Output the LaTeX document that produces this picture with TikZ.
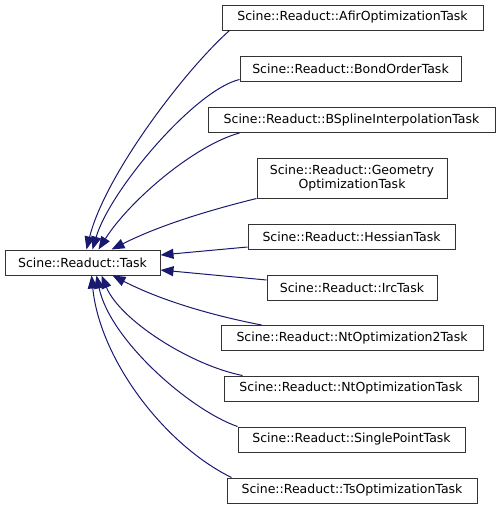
\documentclass[tikz,border=0pt]{standalone}
\usepackage{fontspec}
\setmainfont{DejaVu Sans}
\usetikzlibrary{arrows.meta}
\definecolor{edgeblue}{HTML}{191970}
\definecolor{boxgray}{HTML}{333333}

\begin{document}
\begin{tikzpicture}[x=1pt,y=-1pt,
	classbox/.style = {draw=boxgray, line width=1pt, fill=white, minimum height=25pt, inner sep=2pt,
		font=\fontsize{12.5}{13.7}\selectfont},
	inherit/.style = {draw=edgeblue, line width=1pt, {Triangle[length=13pt,width=10pt]}-}]
	\useasboundingbox (0,0) rectangle (501,509);
	\node[classbox, minimum width=155pt] (task) at (82.5,262.5) {Scine::Readuct::Task};
	\node[classbox, minimum width=261pt] (afir) at (352.5,17.5) {Scine::Readuct::AfirOptimizationTask};
	\node[classbox, minimum width=221pt] (bond) at (350.5,68.5) {Scine::Readuct::BondOrderTask};
	\node[classbox, minimum width=287pt] (bspline) at (351.5,120) {Scine::Readuct::BSplineInterpolationTask};
	\node[classbox, minimum width=190pt, minimum height=40pt, align=center] (geometry) at (352,178) {Scine::Readuct::Geometry\\OptimizationTask};
	\node[classbox, minimum width=207pt] (hessian) at (351.5,237) {Scine::Readuct::HessianTask};
	\node[classbox, minimum width=170pt] (irc) at (352,288) {Scine::Readuct::IrcTask};
	\node[classbox, minimum width=262pt] (nt2) at (352,338) {Scine::Readuct::NtOptimization2Task};
	\node[classbox, minimum width=254pt] (nt) at (351,388.5) {Scine::Readuct::NtOptimizationTask};
	\node[classbox, minimum width=227pt] (single) at (351.5,439.5) {Scine::Readuct::SinglePointTask};
	\node[classbox, minimum width=250pt] (ts) at (352,490.5) {Scine::Readuct::TsOptimizationTask};
	% edges from the derived tasks up to the base task
	\draw[inherit] ([xshift=82pt]task.north west) .. controls (105,175) and (185,70) .. ([xshift=8pt]afir.south west);
	\draw[inherit] ([xshift=88pt]task.north west) .. controls (110,190) and (195,90) .. ([yshift=2pt]bond.south west);
	\draw[inherit] ([xshift=94pt]task.north west) .. controls (130,200) and (195,145) .. ([xshift=32pt]bspline.south west);
	\draw[inherit] ([xshift=107pt]task.north west) .. controls (160,225) and (210,210) .. (geometry.south west);
	\draw[inherit] ([yshift=7.5pt]task.east) -- ([yshift=3pt]hessian.south west);
	\draw[inherit] ([yshift=-7.5pt]task.east) -- ([yshift=-5pt]irc.north west);
	\draw[inherit] ([xshift=108pt]task.south west) .. controls (160,300) and (210,315) .. ([xshift=41pt]nt2.north west);
	\draw[inherit] ([xshift=97pt]task.south west) .. controls (120,320) and (190,365) .. ([xshift=19pt]nt.north west);
	\draw[inherit] ([xshift=92pt]task.south west) .. controls (110,340) and (190,410) .. (single.north west);
	\draw[inherit] ([xshift=87pt]task.south west) .. controls (100,360) and (165,445) .. ([xshift=5pt]ts.north west);
\end{tikzpicture}
\end{document}
